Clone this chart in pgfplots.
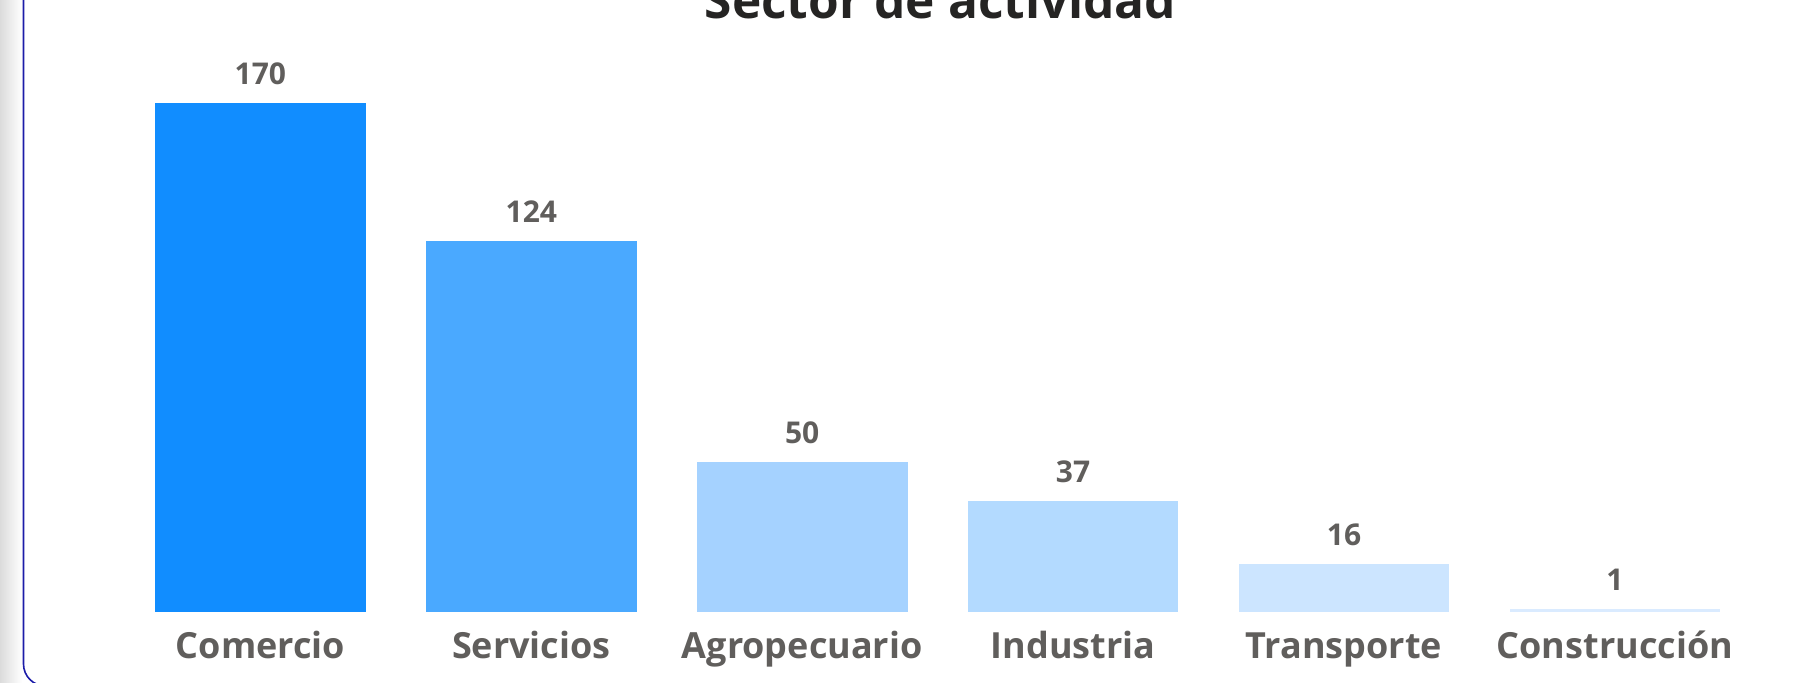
\documentclass[border=0pt]{standalone}
\usepackage{pgfplots}
\pgfplotsset{compat=1.18}
\usepackage{fontspec}
\setmainfont{Open Sans}

\definecolor{c1}{HTML}{118DFF}
\definecolor{c2}{HTML}{4AA9FF}
\definecolor{c3}{HTML}{A5D2FF}
\definecolor{c4}{HTML}{B3DAFF}
\definecolor{c5}{HTML}{CCE5FF}
\definecolor{c6}{HTML}{DAEBFF}
\definecolor{lbl}{HTML}{605E5C}
\definecolor{ttl}{HTML}{252423}
\definecolor{frame}{HTML}{1C1CA8}

\begin{document}
\begin{tikzpicture}
% card frame, shadow and clipped title
\begin{scope}
\clip (0,0) rectangle (907.5pt,341pt);
\shade[left color=black!14, right color=white] (0,0) rectangle (11pt,341pt);
\draw[frame, line width=0.8pt, rounded corners=11pt] (11.75pt,360pt) -- (11.75pt,-2pt) -- (950pt,-2pt);
\node[font=\bfseries\fontsize{24.8}{29}\selectfont, text=ttl, anchor=base] at (470.25pt,331.85pt) {Sector de actividad};
\end{scope}

\begin{axis}[
  at={(0pt,0pt)}, anchor=south west,
  scale only axis, width=907.5pt, height=341pt,
  xmin=-0.9613, xmax=5.7387, ymin=-23.37, ymax=204.3,
  axis line style={draw=none}, tick style={draw=none},
  ytick=\empty, xtick={0,1,2,3,4,5},
  xticklabels={Comercio,Servicios,Agropecuario,Industria,Transporte,Construcción},
  xticklabel style={anchor=base, yshift=12pt, text=lbl, font=\bfseries\fontsize{18}{22}\selectfont},
  /pgf/number format/assume math mode=true,
  clip=false,
  bar width=105.35pt,
  every axis plot/.append style={ybar, bar shift=0pt, draw=none, nodes near coords},
  every node near coord/.append style={anchor=base, yshift=9.25pt, text=lbl, font=\bfseries\fontsize{15}{18}\selectfont},
]
\addplot[fill=c1] coordinates {(0,170)};
\addplot[fill=c2] coordinates {(1,124)};
\addplot[fill=c3] coordinates {(2,50)};
\addplot[fill=c4] coordinates {(3,37)};
\addplot[fill=c5] coordinates {(4,16)};
\addplot[fill=c6] coordinates {(5,1)};
\end{axis}
\pgfresetboundingbox
\useasboundingbox (0,0) rectangle (907.5pt,341pt);
\end{tikzpicture}
\end{document}
